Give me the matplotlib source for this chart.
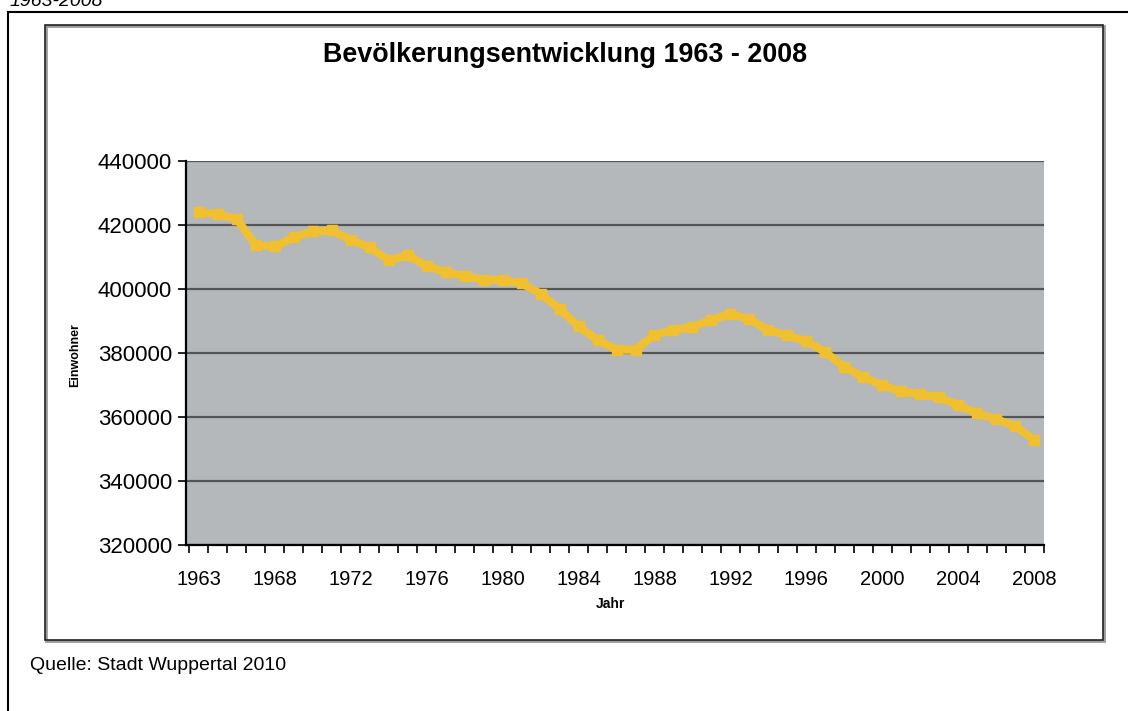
import matplotlib
matplotlib.use('Agg')
import matplotlib.pyplot as plt
from matplotlib.patches import Rectangle
import numpy as np

# Einwohner Wuppertal, Werte (45 Punkte)
einwohner = [
    424000, 423300, 421900, 413600, 413300, 416100, 418000, 418300, 415300, 413000,
    409000, 410500, 407200, 405300, 404000, 402900, 402800, 401800, 398500, 393800,
    388300, 384100, 381000, 381000, 385700, 387100, 388200, 390200, 392300, 390500,
    387100, 385500, 383700, 380300, 375600, 372500, 369900, 368000, 367100, 366100,
    363700, 361100, 359300, 357200, 352800,
]
tick_labels = ['1963', '1968', '1972', '1976', '1980', '1984', '1988',
               '1992', '1996', '2000', '2004', '2008']
y_ticks = [320000, 340000, 360000, 380000, 400000, 420000, 440000]

W, H = 1128, 711
plt.rcParams['font.family'] = ['Liberation Sans', 'DejaVu Sans']

fig = plt.figure(figsize=(W / 100, H / 100), dpi=100, facecolor='white')


def px(x0, y0, x1, y1):
    # Pixel-Rechteck (oben links / unten rechts) -> Figurenkoordinaten
    return [x0 / W, 1 - y1 / H, (x1 - x0) / W, (y1 - y0) / H]


# aeusserer Rahmen (nur links und oben sichtbar)
fig.add_artist(Rectangle((8 / W, -0.1), 1.2, (H - 12) / H + 0.1, transform=fig.transFigure,
                         fill=False, edgecolor='black', linewidth=1.5))
# Rahmen des Diagramms mit leichtem Schatten
fig.add_artist(Rectangle((46 / W, 1 - 641 / H), (1104 - 46) / W, (641 - 26) / H,
                         transform=fig.transFigure, fill=False, edgecolor='#9a9a9a', linewidth=2))
fig.add_artist(Rectangle((45 / W, 1 - 640 / H), (1103 - 45) / W, (640 - 25) / H,
                         transform=fig.transFigure, fill=False, edgecolor='#222222', linewidth=1.2))

fig.text(10 / W, 1 - 6 / H, '1963-2008', fontsize=14, style='italic', va='baseline', ha='left')
fig.text(30 / W, 1 - 665 / H, 'Quelle: Stadt Wuppertal 2010', fontsize=14, va='center', ha='left')
fig.text(565 / W, 1 - 55 / H, 'Bevölkerungsentwicklung 1963 - 2008', fontsize=19.4,
         fontweight='bold', va='center', ha='center')

ax = fig.add_axes(px(186, 161, 1044, 545))
ax.set_facecolor('#b5b8bb')

x = np.arange(len(einwohner))
ax.plot(x, einwohner, color='#f0c030', linewidth=5.8, marker='s', markersize=7,
        solid_joinstyle='round', zorder=3)

ax.set_xlim(-0.68, len(einwohner) - 0.48)
ax.set_ylim(y_ticks[0], y_ticks[-1])
ax.set_yticks(y_ticks)
ax.set_yticklabels([str(v) for v in y_ticks], fontsize=16)
ax.set_xticks(np.arange(0, len(einwohner), 4))
ax.set_xticklabels(tick_labels, fontsize=14.5)
ax.set_xticks(np.arange(-0.5, len(einwohner), 1), minor=True)
ax.tick_params(axis='x', which='major', length=0, pad=18)
ax.tick_params(axis='x', which='minor', length=6, width=1.2, direction='out')
ax.tick_params(axis='y', length=6, width=1.2, direction='out', pad=4)

ax.grid(axis='y', color='#555555', linewidth=1.6)
ax.set_axisbelow(True)
for s in ['top', 'right']:
    ax.spines[s].set_visible(False)
for s in ['left', 'bottom']:
    ax.spines[s].set_linewidth(1.6)
    ax.spines[s].set_zorder(4)

fig.text(75 / W, 1 - 355 / H, 'Einwohner', fontsize=9, fontweight='bold',
         rotation=90, va='center', ha='center')
fig.text(610 / W, 1 - 604 / H, 'Jahr', fontsize=10, fontweight='bold', va='center', ha='center')

fig.savefig('out.png', dpi=100, facecolor='white')
